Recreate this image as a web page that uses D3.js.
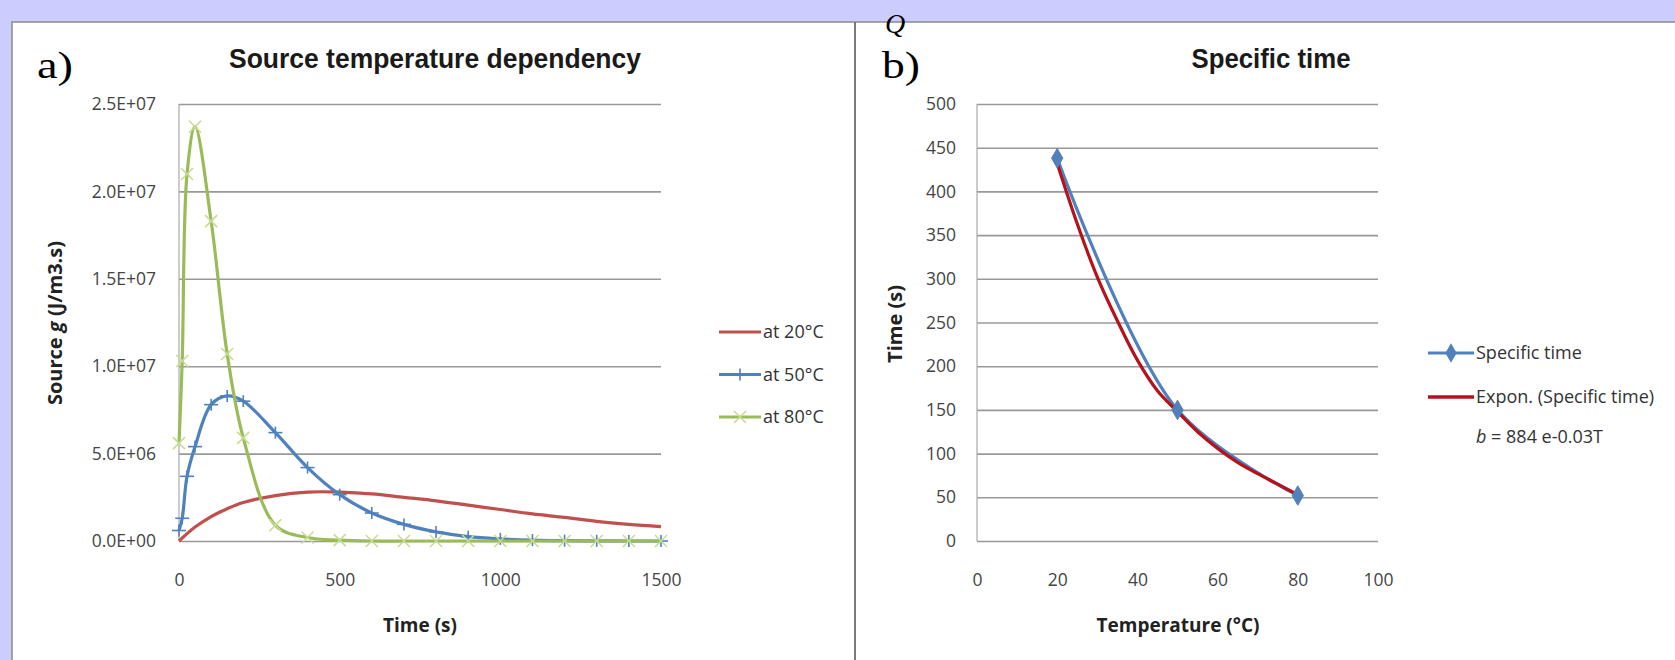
<!DOCTYPE html>
<html>
<head>
<meta charset="utf-8">
<script src="https://cdnjs.cloudflare.com/ajax/libs/d3/7.8.5/d3.min.js"></script>
<style>
  body { margin: 0; padding: 0; background: #ccccff; }
  svg { display: block; }
  .tick text { font-family: "Open Sans", "Noto Sans", sans-serif; font-size: 17.5px; fill: #444; }
  .lbl { font-family: "Open Sans", "Noto Sans", sans-serif; fill: #222; }
</style>
</head>
<body>
<svg id="chart" width="1675" height="660"></svg>
<script>
// ---- panel a) : source vs time ----
var timeSamples = [0, 10, 25, 50, 100, 150, 200, 300, 400, 500, 600, 700, 800, 900, 1000, 1100, 1200, 1300, 1400, 1500];
var source20 = [0, 0.17, 0.42, 0.8, 1.4, 1.85, 2.2, 2.6, 2.8, 2.8, 2.7, 2.5, 2.3, 2.05, 1.8, 1.55, 1.35, 1.12, 0.95, 0.82];
var source50 = [0.6, 1.3, 3.7, 5.4, 7.8, 8.3, 8.0, 6.2, 4.2, 2.65, 1.6, 0.95, 0.52, 0.25, 0.12, 0.05, 0.02, 0.01, 0, 0];
var source80 = [5.6, 10.3, 21.0, 23.7, 18.3, 10.7, 5.9, 0.9, 0.2, 0.05, 0, 0, 0, 0, 0, 0, 0, 0, 0, 0];
var sourceNames = ["at 20°C", "at 50°C", "at 80°C"];
var sourceTickVals = [0, 5e6, 1e7, 1.5e7, 2e7, 2.5e7];
var sourceTickLabels = ["0.0E+00", "5.0E+06", "1.0E+07", "1.5E+07", "2.0E+07", "2.5E+07"];
var timeTicks = [0, 500, 1000, 1500];

// ---- panel b) : specific time vs temperature ----
var tempPoints = [20, 50, 80];
var specificTime = [438, 150, 52];
var trendTemps = [20, 25, 30, 35, 40, 45, 50, 55, 60, 65, 70, 75, 80];
var trendValues = [432, 363, 302, 252, 207, 172, 148, 125, 106, 90, 77, 65, 53];
var timeTickVals = [0, 50, 100, 150, 200, 250, 300, 350, 400, 450, 500];
var tempTicks = [0, 20, 40, 60, 80, 100];

var red = "#c0504d", blue = "#4f81bd", green = "#9bbb59", darkRed = "#b5121b";

var svg = d3.select("#chart");

// background + white sheet
svg.append("rect").attr("width", 1675).attr("height", 660).attr("fill", "#ccccff");
svg.append("rect").attr("x", 12).attr("y", 22).attr("width", 1670).attr("height", 645)
    .attr("fill", "#fff").attr("stroke", "#8a8a8a").attr("stroke-width", 1.5);
svg.append("line").attr("x1", 855).attr("x2", 855).attr("y1", 22).attr("y2", 660)
    .attr("stroke", "#7a7a7a").attr("stroke-width", 2);

function gridAxis(g, y, x0, x1, vals, fmt, pad) {
    var ax = d3.axisLeft(y).tickValues(vals).tickFormat(fmt)
        .tickSizeInner(-(x1 - x0)).tickSizeOuter(0).tickPadding(pad);
    g.attr("transform", "translate(" + x0 + ",0)").call(ax);
    g.select(".domain").remove();
    g.selectAll(".tick line").attr("stroke", "#999").attr("stroke-width", 1.6);
    g.append("line").attr("x1", 0).attr("x2", 0).attr("y1", y.range()[1]).attr("y2", y.range()[0])
        .attr("stroke", "#aaa").attr("stroke-width", 1.2);
}
function bottomAxis(g, x, yPos, vals) {
    var ax = d3.axisBottom(x).tickValues(vals).tickFormat(d3.format("d")).tickSize(0).tickPadding(33);
    g.attr("transform", "translate(0," + yPos + ")").call(ax);
    g.select(".domain").remove();
}

// ===== panel a =====
var xA = d3.scaleLinear().domain([0, 1500]).range([179, 661]);
var yA = d3.scaleLinear().domain([0, 2.5e7]).range([541, 104]);

gridAxis(svg.append("g"), yA, 179, 661, sourceTickVals,
    function(d, i) { return sourceTickLabels[i]; }, 23);
bottomAxis(svg.append("g"), xA, 541, timeTicks);

var lineA = d3.line()
    .x(function(d) { return xA(d[0]); })
    .y(function(d) { return yA(d[1] * 1e6); })
    .curve(d3.curveCatmullRom.alpha(0.5));

var seriesA = [
    { name: sourceNames[0], vals: source20, color: red, marker: null },
    { name: sourceNames[1], vals: source50, color: blue, marker: "plus" },
    { name: sourceNames[2], vals: source80, color: green, marker: "cross" }
];

function drawMarker(g, kind, cx, cy) {
    if (kind == "plus") {
        g.append("line").attr("x1", cx - 7).attr("x2", cx + 7).attr("y1", cy).attr("y2", cy)
            .attr("stroke", blue).attr("stroke-width", 1.6);
        g.append("line").attr("x1", cx).attr("x2", cx).attr("y1", cy - 6).attr("y2", cy + 6)
            .attr("stroke", blue).attr("stroke-width", 1.6);
    } else if (kind == "cross") {
        g.append("path").attr("d", "M" + (cx - 6) + "," + (cy - 6) + "L" + (cx + 6) + "," + (cy + 6) +
            "M" + (cx - 6) + "," + (cy + 6) + "L" + (cx + 6) + "," + (cy - 6))
            .attr("stroke", "#c5dc94").attr("stroke-width", 1.5).attr("fill", "none");
    }
}

seriesA.forEach(function(s) {
    var pts = timeSamples.map(function(t, i) { return [t, s.vals[i]]; });
    svg.append("path").datum(pts).attr("d", lineA)
        .attr("fill", "none").attr("stroke", s.color).attr("stroke-width", 3.2);
    if (s.marker) {
        var mg = svg.append("g");
        pts.forEach(function(p) { drawMarker(mg, s.marker, xA(p[0]), yA(p[1] * 1e6)); });
    }
});

// legend a
seriesA.forEach(function(s, i) {
    var ly = 332 + i * 42.5;
    svg.append("line").attr("x1", 719).attr("x2", 761).attr("y1", ly).attr("y2", ly)
        .attr("stroke", s.color).attr("stroke-width", 3.2);
    if (s.marker) drawMarker(svg.append("g"), s.marker, 740, ly);
    svg.append("text").attr("class", "lbl").attr("x", 763).attr("y", ly).attr("dy", "0.35em")
        .style("font-size", "18px").style("fill", "#333").text(s.name);
});

// titles a
svg.append("text").attr("x", 37).attr("y", 78)
    .style("font-family", "'Liberation Serif', serif").style("font-size", "38px")
    .attr("textLength", 36).attr("lengthAdjust", "spacingAndGlyphs").text("a)");
svg.append("text").attr("x", 435).attr("y", 68).attr("text-anchor", "middle")
    .style("font-family", "'Liberation Sans Narrow', 'Liberation Sans', sans-serif")
    .style("font-weight", "bold").style("font-size", "28px").style("fill", "#1a1a1a")
    .attr("textLength", 412).attr("lengthAdjust", "spacingAndGlyphs")
    .text("Source temperature dependency");
svg.append("text").attr("class", "lbl").attr("x", 420).attr("y", 632).attr("text-anchor", "middle")
    .style("font-weight", "bold").style("font-size", "19px").text("Time (s)");
var yt = svg.append("text").attr("class", "lbl").attr("text-anchor", "middle")
    .attr("transform", "translate(62,323) rotate(-90)")
    .style("font-weight", "bold").style("font-size", "20px");
yt.append("tspan").text("Source ");
yt.append("tspan").style("font-style", "italic").text("g");
yt.append("tspan").text(" (J/m3.s)");

// ===== panel b =====
var xB = d3.scaleLinear().domain([0, 100]).range([977, 1378]);
var yB = d3.scaleLinear().domain([0, 500]).range([541, 104]);

gridAxis(svg.append("g"), yB, 977, 1378, timeTickVals, d3.format("d"), 21);
bottomAxis(svg.append("g"), xB, 541, tempTicks);

// excel "smoothed line" look for both the data and the trend
var lineB = d3.line()
    .x(function(d) { return xB(d[0]); })
    .y(function(d) { return yB(d[1]); })
    .curve(d3.curveCatmullRom.alpha(0.5));

var stPts = tempPoints.map(function(t, i) { return [t, specificTime[i]]; });
var trPts = trendTemps.map(function(t, i) { return [t, trendValues[i]]; });

svg.append("path").datum(stPts).attr("d", lineB)
    .attr("fill", "none").attr("stroke", blue).attr("stroke-width", 3.2);
svg.append("path").datum(trPts).attr("d", lineB)
    .attr("fill", "none").attr("stroke", darkRed).attr("stroke-width", 3.2);

var diamond = d3.symbol().type(d3.symbolDiamond).size(110);
svg.append("g").selectAll("path").data(stPts).enter().append("path")
    .attr("d", diamond)
    .attr("transform", function(d) { return "translate(" + xB(d[0]) + "," + yB(d[1]) + ")"; })
    .attr("fill", blue).attr("stroke", "#5a7fb0").attr("stroke-width", 1);

// legend b
svg.append("line").attr("x1", 1428).attr("x2", 1474).attr("y1", 353).attr("y2", 353)
    .attr("stroke", blue).attr("stroke-width", 3.2);
svg.append("path").attr("d", diamond).attr("transform", "translate(1451,353)").attr("fill", blue);
svg.append("text").attr("class", "lbl").attr("x", 1476).attr("y", 353).attr("dy", "0.35em")
    .style("font-size", "18px").style("fill", "#333").text("Specific time");
svg.append("line").attr("x1", 1428).attr("x2", 1474).attr("y1", 397).attr("y2", 397)
    .attr("stroke", darkRed).attr("stroke-width", 3.5);
svg.append("text").attr("class", "lbl").attr("x", 1476).attr("y", 397).attr("dy", "0.35em")
    .style("font-size", "18px").style("fill", "#333").text("Expon. (Specific time)");
var eq = svg.append("text").attr("class", "lbl").attr("x", 1476).attr("y", 437).attr("dy", "0.35em")
    .style("font-size", "18px").style("fill", "#333");
eq.append("tspan").style("font-style", "italic").text("b");
eq.append("tspan").text(" = 884 e-0.03T");

// titles b
svg.append("text").attr("x", 885).attr("y", 33)
    .style("font-family", "'Liberation Serif', serif").style("font-style", "italic")
    .style("font-size", "28px").text("Q");
svg.append("text").attr("x", 882).attr("y", 78)
    .style("font-family", "'Liberation Serif', serif").style("font-size", "38px")
    .attr("textLength", 38).attr("lengthAdjust", "spacingAndGlyphs").text("b)");
svg.append("text").attr("x", 1271).attr("y", 68).attr("text-anchor", "middle")
    .style("font-family", "'Liberation Sans Narrow', 'Liberation Sans', sans-serif")
    .style("font-weight", "bold").style("font-size", "28px").style("fill", "#1a1a1a")
    .attr("textLength", 159).attr("lengthAdjust", "spacingAndGlyphs")
    .text("Specific time");
svg.append("text").attr("class", "lbl").attr("x", 1178).attr("y", 632).attr("text-anchor", "middle")
    .style("font-weight", "bold").style("font-size", "19px").text("Temperature (°C)");
svg.append("text").attr("class", "lbl").attr("text-anchor", "middle")
    .attr("transform", "translate(902,324) rotate(-90)")
    .style("font-weight", "bold").style("font-size", "20px").text("Time (s)");
</script>
</body>
</html>
